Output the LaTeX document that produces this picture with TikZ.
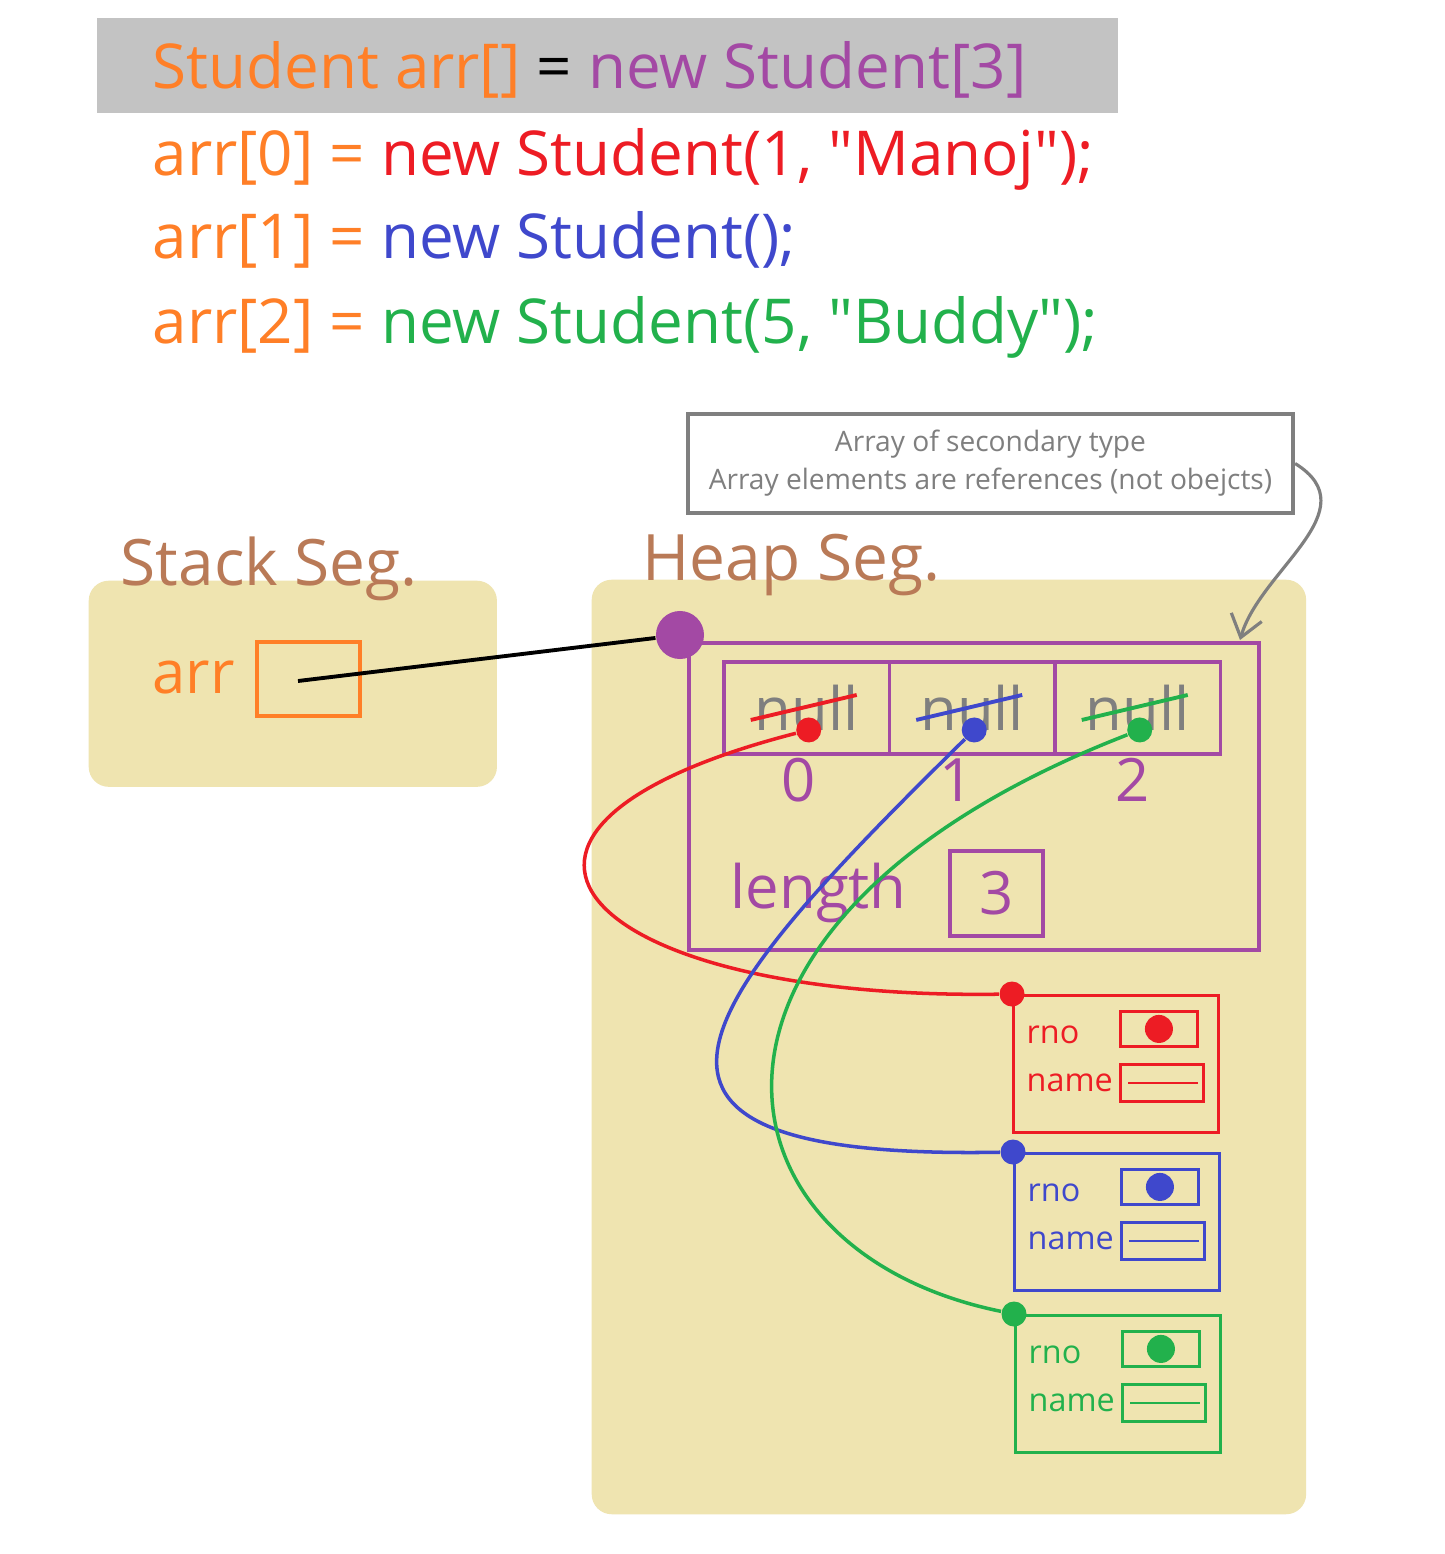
\documentclass[tikz,border=0pt]{standalone}
\usepackage{fontspec}
\setmainfont{Open Sans}
\usepackage{xcolor}
\usetikzlibrary{arrows.meta, positioning}
\definecolor{porange}{HTML}{FF7F27}
\definecolor{pred}{HTML}{ED1C24}
\definecolor{pblue}{HTML}{3F48CC}
\definecolor{pgreen}{HTML}{22B14C}
\definecolor{ppurple}{HTML}{A349A4}
\definecolor{pgray}{HTML}{7F7F7F}
\definecolor{codebg}{HTML}{C3C3C3}
\definecolor{segfill}{HTML}{EFE4B0}
\definecolor{segbrown}{HTML}{B97A57}
\tikzset{
  >=latex,
  % Testi
  codeline/.style={anchor=base west, inner sep=0, font=\fontsize{17.6}{22}\selectfont},
  seglabel/.style={anchor=base west, inner sep=0, text=segbrown, font=\fontsize{18.2}{22}\selectfont},
  bigtext/.style={inner sep=0, font=\fontsize{17}{20}\selectfont},
  smalltext/.style={anchor=base west, inner sep=0, font=\fontsize{9.2}{12}\selectfont},
  % Segmenti di memoria e caselle
  memseg/.style={fill=segfill, rounded corners=0.2cm, anchor=north west, inner sep=0},
  cellbox/.style={line width=1.1pt, anchor=north west, inner sep=0},
  objbox/.style={line width=0.85pt, anchor=north west, inner sep=0},
  fieldbox/.style={line width=0.8pt, anchor=north west, inner sep=0},
  refdot/.style={circle, inner sep=0, minimum size=0.25cm},
  notebox/.style={draw=pgray, line width=1.1pt, fill=white, text=pgray, align=center,
    inner sep=0, font=\fontsize{8}{10.8}\selectfont},
  % Collegamenti
  refline/.style={line width=1pt},
  notearrow/.style={-{Straight Barb[length=6pt,width=9pt]}, draw=pgray, line width=0.9pt}
}

\begin{document}
\begin{tikzpicture}[x=0.01cm, y=-0.01cm]
\useasboundingbox (0,0) rectangle (1444,1554);
\fill[white] (0,0) rectangle (1444,1554);

% Codice
\fill[codebg] (97,18) rectangle (1118,113);
\node[codeline] (decl) at (152,88) {\textcolor{porange}{Student arr[]} = \textcolor{ppurple}{new Student[3]}};
\node[codeline, text=porange] (init0) at (152,175) {arr[0] = \textcolor{pred}{new Student(1, \textquotedbl Manoj\textquotedbl);}};
\node[codeline, text=porange] (init1) at (152,258) {arr[1] = \textcolor{pblue}{new Student();}};
\node[codeline, text=porange] (init2) at (152,343) {arr[2] = \textcolor{pgreen}{new Student(5, \textquotedbl Buddy\textquotedbl);}};

% Stack
\node[memseg, minimum width=4.08cm, minimum height=2.06cm] (stack) at (88,580) {};
\node[seglabel] (stacklbl) at (120,585) {Stack Seg.};
\node[bigtext, anchor=base west, text=porange] (arrname) at (152,693) {arr};
\node[cellbox, draw=porange, minimum width=1.03cm, minimum height=0.74cm] (arrvar) at (255,640) {};
\coordinate (arrref) at (298,681);

% Heap
\node[memseg, minimum width=7.14cm, minimum height=9.34cm] (heap) at (591,579) {};
\node[seglabel] (heaplbl) at (642,580) {Heap Seg.};
\node[cellbox, draw=ppurple, minimum width=5.70cm, minimum height=3.07cm] (arrobj) at (687,641) {};
\node[refdot, fill=ppurple, minimum size=0.48cm] (arrdot) at (680,635) {};
\draw[refline, line width=1.1pt] (arrref) -- (arrdot);

% Celle dell'array
\foreach \i/\col in {0/pred,1/pblue,2/pgreen}{
  \node[cellbox, draw=ppurple, minimum width=1.655cm, minimum height=0.92cm,
    bigtext, text=pgray] (cell\i) at (722+165.5*\i,660) {null};
  \draw[\col, line width=1.1pt] ([shift={(-56,12)}]cell\i.center) -- ([shift={(50,-13)}]cell\i.center);
  \node[refdot, fill=\col] (ref\i) at ([shift={(2,22)}]cell\i.center) {};
}
\foreach \i/\x in {0/799,1/957,2/1133}
  \node[bigtext, text=ppurple] (idx\i) at (\x,780) {\i};
\node[bigtext, anchor=base west, text=ppurple] (lenlbl) at (730,908) {length};
\node[cellbox, draw=ppurple, minimum width=0.93cm, minimum height=0.85cm,
  bigtext, text=ppurple] (lenval) at (948,849) {3};

% Oggetti Student
\foreach \i/\col/\x/\y in {0/pred/1012/994, 1/pblue/1013/1152, 2/pgreen/1014/1314}{
  \begin{scope}[shift={(\x,\y)}]
    \node[objbox, draw=\col, minimum width=2.05cm, minimum height=1.37cm] (obj\i) at (0,0) {};
    \node[smalltext, text=\col] (rno\i) at (14,49) {rno};
    \node[smalltext, text=\col] (name\i) at (14,97) {name};
    \node[fieldbox, draw=\col, minimum width=0.77cm, minimum height=0.35cm] (rnobox\i) at (107,16) {};
    \node[refdot, fill=\col, minimum size=0.28cm] (rnoval\i) at (rnobox\i.center) {};
    \node[fieldbox, draw=\col, minimum width=0.83cm, minimum height=0.37cm] (namebox\i) at (107,69) {};
    \draw[\col, line width=0.8pt] ([xshift=0.09cm]namebox\i.west) -- ([xshift=-0.07cm]namebox\i.east);
    \node[refdot, fill=\col] (objdot\i) at (obj\i.north west) {};
  \end{scope}
}

% Riferimenti
\draw[refline, pred] (ref0) .. controls (420,830) and (580,1000) .. (objdot0);
\draw[refline, pblue] (ref1) .. controls (700,1000) and (560,1160) .. (objdot1);
\draw[refline, pgreen] (ref2) .. controls (650,920) and (700,1250) .. (objdot2);

% Nota
\node[notebox, minimum width=6.05cm, minimum height=0.99cm] (note) at (990.5,463.5)
  {Array of secondary type\\Array elements are references (not obejcts)};
\coordinate (notetip) at (1240,640);
\draw[notearrow] (note.east) .. controls (1370,510) and (1260,570) .. (notetip);

\end{tikzpicture}
\end{document}
